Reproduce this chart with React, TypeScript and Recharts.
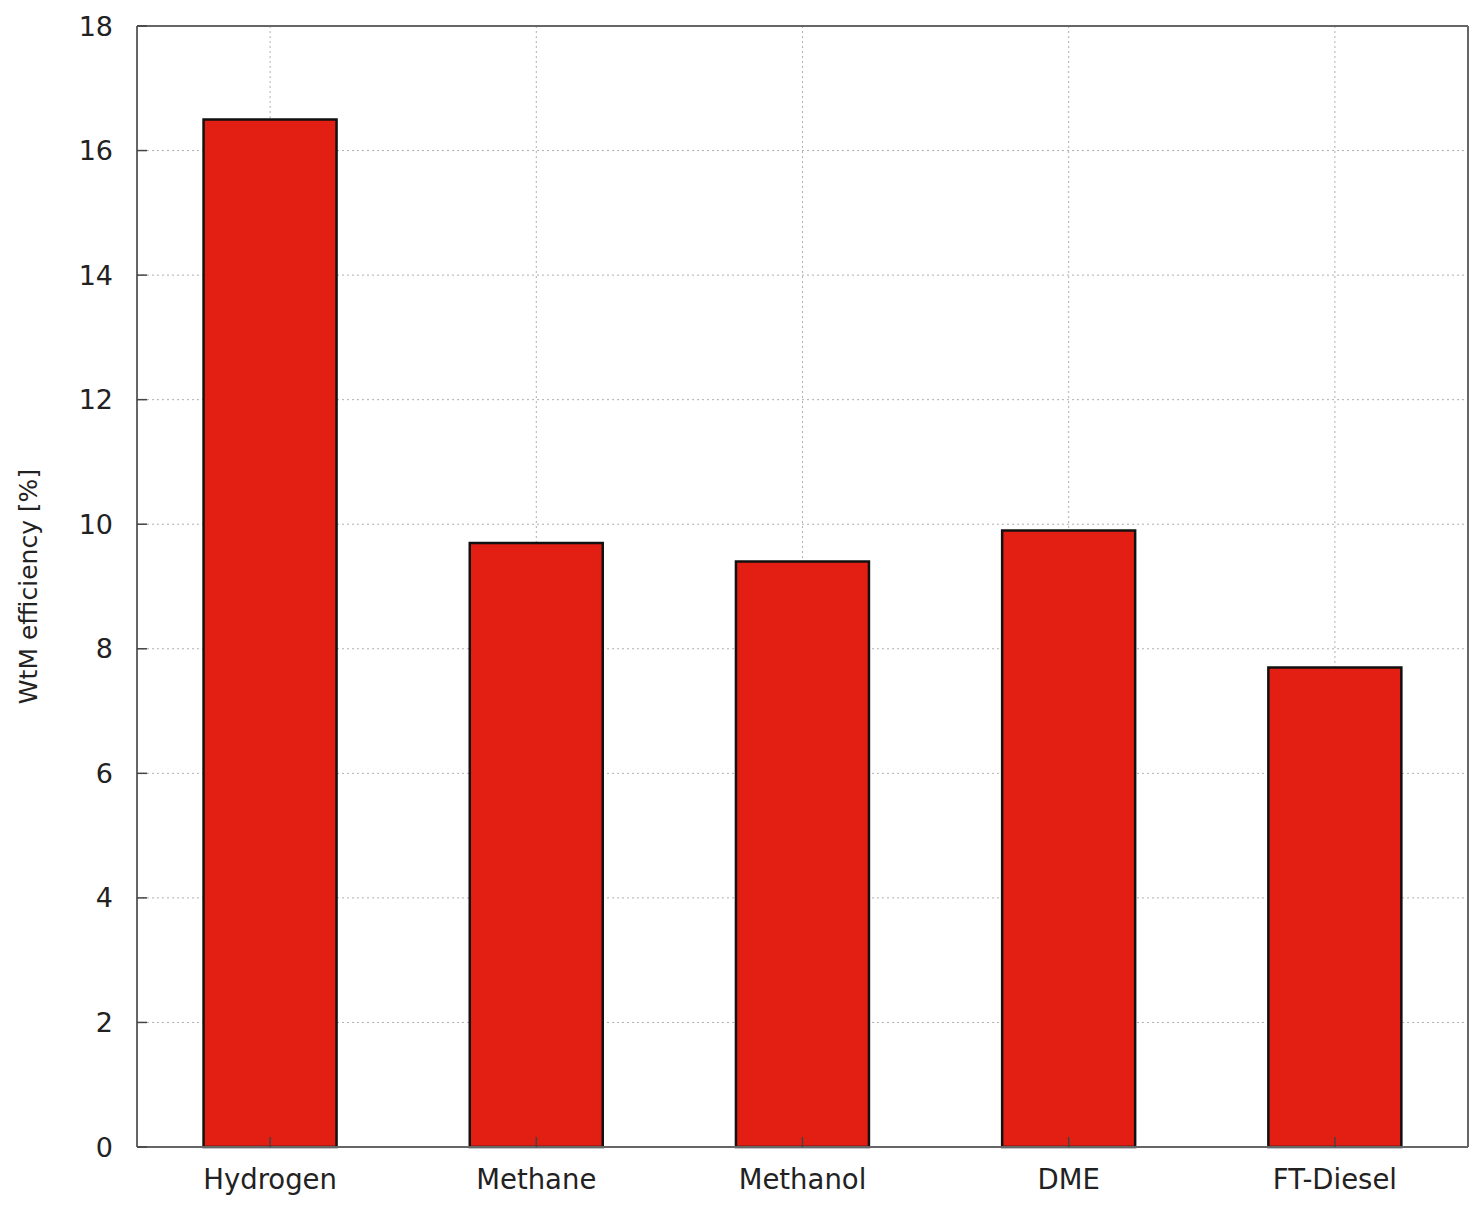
import { BarChart, Bar, XAxis, YAxis, CartesianGrid, Label } from 'recharts'

const fuels = ['Hydrogen', 'Methane', 'Methanol', 'DME', 'FT-Diesel']
const efficiency = [16.5, 9.7, 9.4, 9.9, 7.7]
const yTicks = [0, 2, 4, 6, 8, 10, 12, 14, 16, 18]

const data = fuels.map((name, i) => ({ name, value: efficiency[i] }))

const FONT = '"DejaVu Sans", sans-serif'
const TEXT = '#222'
const FRAME = '#666'

function YTick({ x, y, payload }: any) {
  return (
    <g>
      <line x1={x} x2={x + 10} y1={y} y2={y} stroke="#444" strokeWidth={1.5} />
      <text x={x - 24} y={y} textAnchor="end" dominantBaseline="central" fontSize={27} fontFamily={FONT} fill={TEXT}>
        {payload.value}
      </text>
    </g>
  )
}

function XTick({ x, y, payload }: any) {
  return (
    <g>
      <line x1={x} x2={x} y1={y} y2={y - 10} stroke="#444" strokeWidth={1.5} />
      <text x={x} y={y + 32} textAnchor="middle" dominantBaseline="central" fontSize={27.5} fontFamily={FONT} fill={TEXT}>
        {payload.value}
      </text>
    </g>
  )
}

function YLabel({ viewBox }: any) {
  const cx = viewBox.x + 20
  const cy = viewBox.y + viewBox.height / 2
  return (
    <text
      x={cx}
      y={cy}
      transform={`rotate(-90 ${cx} ${cy})`}
      textAnchor="middle"
      dominantBaseline="central"
      fontSize={25}
      fontFamily={FONT}
      fill={TEXT}
    >
      WtM efficiency [%]
    </text>
  )
}

export default function App() {
  return (
    <div style={{ width: 1476, height: 1200, background: '#fff' }}>
      <BarChart
        width={1476}
        height={1200}
        data={data}
        margin={{ top: 18, right: 16, left: 0, bottom: 0 }}
        barCategoryGap="25%"
      >
        <CartesianGrid stroke="#b0b0b0" strokeDasharray="2 3" />
        <XAxis
          dataKey="name"
          height={61}
          tickSize={0}
          tickMargin={0}
          tick={<XTick />}
          axisLine={{ stroke: FRAME, strokeWidth: 2 }}
          interval={0}
        />
        <XAxis
          xAxisId="top"
          dataKey="name"
          orientation="top"
          height={1}
          mirror
          tick={false}
          tickSize={10}
          tickLine={{ stroke: '#444', strokeWidth: 1.5 }}
          axisLine={{ stroke: FRAME, strokeWidth: 2 }}
          interval={0}
        />
        <YAxis
          width={129}
          domain={[0, 18]}
          ticks={yTicks}
          tickSize={0}
          tickMargin={0}
          tick={<YTick />}
          axisLine={{ stroke: FRAME, strokeWidth: 2 }}
          interval={0}
        >
          <Label content={<YLabel />} />
        </YAxis>
        <YAxis
          yAxisId="right"
          orientation="right"
          width={1}
          mirror
          domain={[0, 18]}
          ticks={yTicks}
          tick={false}
          tickSize={10}
          tickLine={{ stroke: '#444', strokeWidth: 1.5 }}
          axisLine={{ stroke: FRAME, strokeWidth: 2 }}
          interval={0}
        />
        <Bar dataKey="value" fill="#e31e12" stroke="#111" strokeWidth={2.5} isAnimationActive={false} />
      </BarChart>
    </div>
  )
}
